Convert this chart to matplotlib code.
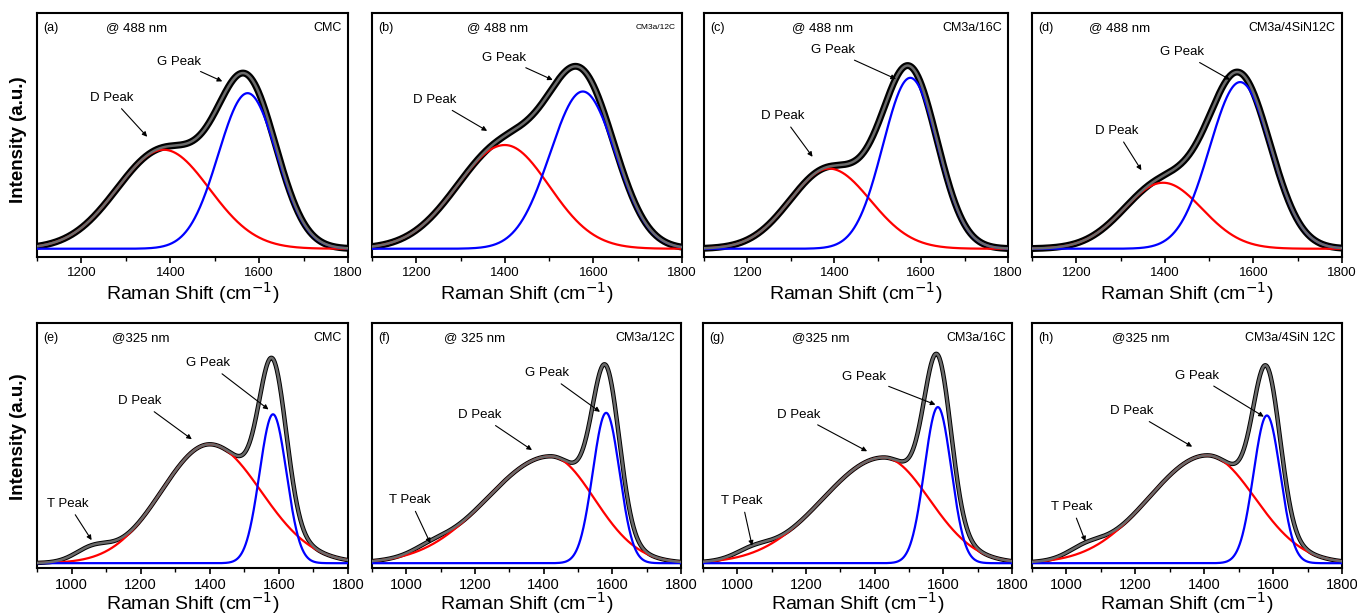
import numpy as np
import matplotlib
matplotlib.use("Agg")
import matplotlib.pyplot as plt
from matplotlib.ticker import MultipleLocator

plt.rcParams['font.family'] = ['Liberation Sans', 'DejaVu Sans']

# ---------------------------------------------------------------
# values (peak centre, height, widths)
# ---------------------------------------------------------------
tags = ['(a)', '(b)', '(c)', '(d)', '(e)', '(f)', '(g)', '(h)']
lasers = ['@ 488 nm', '@ 488 nm', '@ 488 nm', '@ 488 nm',
          '@325 nm', '@ 325 nm', '@325 nm', '@325 nm']
samples = ['CMC', 'CM3a/12C', 'CM3a/16C', 'CM3a/4SiN12C',
           'CMC', 'CM3a/12C', 'CM3a/16C', 'CM3a/4SiN 12C']

d_pos = [1385, 1400, 1388, 1396, 1400, 1420, 1426, 1409]
d_amp = [0.42, 0.44, 0.34, 0.28, 0.495, 0.445, 0.44, 0.449]
d_sig_left = [105, 108, 90, 88, 140, 185, 178, 170]
d_sig_right = [103, 100, 95, 88, 148, 127, 133, 138]

g_pos = [1574, 1576, 1575, 1570, 1583, 1582, 1584, 1582]
g_amp = [0.66, 0.667, 0.725, 0.707, 0.62, 0.626, 0.65, 0.615]
g_sig = [66, 74, 63, 69, 39, 39, 39, 39]

t_pos = [1060, 1060, 1060, 1060, 1060, 1070, 1045, 1055]
t_amp = [0, 0, 0, 0, 0.05, 0.02, 0.03, 0.035]
t_sig = [50, 50, 50, 50, 50, 50, 50, 50]

# annotation (text centre, arrow tip) in data units
d_text = [(1268, 0.64), (1242, 0.63), (1281, 0.563), (1291, 0.50),
          (1198, 0.674), (1215, 0.616), (1179, 0.618), (1190, 0.632)]
d_tip = [(1348, 0.475), (1360, 0.50), (1350, 0.39), (1347, 0.333),
         (1348, 0.516), (1366, 0.471), (1378, 0.466), (1365, 0.485)]
g_text = [(1419, 0.794), (1398, 0.81), (1396, 0.842), (1438, 0.833),
          (1396, 0.832), (1409, 0.79), (1368, 0.777), (1379, 0.78)]
g_tip = [(1517, 0.71), (1508, 0.716), (1542, 0.72), (1547, 0.717),
         (1570, 0.64), (1564, 0.63), (1577, 0.66), (1573, 0.61)]
t_text = [None, None, None, None,
          (990, 0.248), (1011, 0.263), (1014, 0.26), (1016, 0.235)]
t_tip = [None, None, None, None,
         (1058, 0.096), (1070, 0.083), (1043, 0.073), (1055, 0.091)]

# axes boxes in pixels: left, right
lefts = [37, 372, 704, 1032, 37, 372, 703, 1032]
rights = [348, 682, 1008, 1342, 348, 681, 1012, 1342]
laser_x = [0.223, 0.308, 0.29, 0.183, 0.24, 0.232, 0.288, 0.258]

W, H = 1357, 616


def split_gauss(x, c, a, sl, sr):
    s = np.where(x < c, sl, sr)
    return a * np.exp(-(x - c) ** 2 / (2 * s ** 2))


def gauss(x, c, a, s):
    return a * np.exp(-(x - c) ** 2 / (2 * s ** 2))


fig = plt.figure(figsize=(W / 100, H / 100), dpi=100)

for i in range(8):
    top_row = i < 4
    if top_row:
        y0, y1 = 13, 257
        xmin = 1100
        ylo = -0.035
    else:
        y0, y1 = 323, 568
        xmin = 900
        ylo = -0.02
    ax = fig.add_axes([lefts[i] / W, 1 - y1 / H,
                       (rights[i] - lefts[i]) / W, (y1 - y0) / H])

    x = np.arange(xmin, 1801, 1.0)
    d = split_gauss(x, d_pos[i], d_amp[i], d_sig_left[i], d_sig_right[i])
    g = gauss(x, g_pos[i], g_amp[i], g_sig[i])
    t = gauss(x, t_pos[i], t_amp[i], t_sig[i])
    fit = d + g + t

    # measured spectrum (drawn as a thick band), components, fit on top
    ax.plot(x, fit, color='black', lw=5.0 if top_row else 3.2, zorder=1)
    ax.plot(x, d, color='#ff0000', lw=1.6, zorder=2)
    ax.plot(x, g, color='#0000ff', lw=1.6, zorder=3)
    ax.plot(x, fit, color='#6a6a6a', lw=1.8, zorder=4)

    ax.set_xlim(xmin, 1800)
    ax.set_ylim(ylo, 1.0)
    ax.set_yticks([])
    ax.xaxis.set_major_locator(MultipleLocator(200))
    ax.xaxis.set_minor_locator(MultipleLocator(100))
    ax.tick_params(axis='x', which='major', direction='out', length=4,
                   width=1.2, labelsize=9.5 if top_row else 10.5, pad=3)
    ax.tick_params(axis='x', which='minor', direction='out', length=3,
                   width=1.0)
    for sp in ax.spines.values():
        sp.set_linewidth(1.5)
    ax.set_xlabel('Raman Shift (cm$^{-1}$)', fontsize=14,
                  labelpad=1 if top_row else -1)

    ax.text(0.02, 0.94, tags[i], transform=ax.transAxes, fontsize=9,
            va='center', ha='left')
    ax.text(laser_x[i], 0.94, lasers[i], transform=ax.transAxes,
            fontsize=9.5, va='center', ha='left')
    ax.text(0.98, 0.94, samples[i], transform=ax.transAxes,
            fontsize=6 if i == 1 else 9, va='center', ha='right')

    arrow = dict(arrowstyle='-|>', color='black', lw=0.8,
                 mutation_scale=7, shrinkA=2, shrinkB=0)
    ax.annotate('D Peak', xy=d_tip[i], xytext=d_text[i], fontsize=9.5,
                ha='center', va='center', arrowprops=arrow, zorder=6)
    ax.annotate('G Peak', xy=g_tip[i], xytext=g_text[i], fontsize=9.5,
                ha='center', va='center', arrowprops=arrow, zorder=6)
    if t_text[i] is not None:
        ax.annotate('T Peak', xy=t_tip[i], xytext=t_text[i], fontsize=9.5,
                    ha='center', va='center', arrowprops=arrow, zorder=6)

fig.text(19 / W, 1 - 140 / H, 'Intensity (a.u.)', rotation=90,
         fontsize=13.5, fontweight='bold', ha='center', va='center')
fig.text(19 / W, 1 - 437 / H, 'Intensity (a.u.)', rotation=90,
         fontsize=13.5, fontweight='bold', ha='center', va='center')

fig.savefig('out.png', dpi=100)
